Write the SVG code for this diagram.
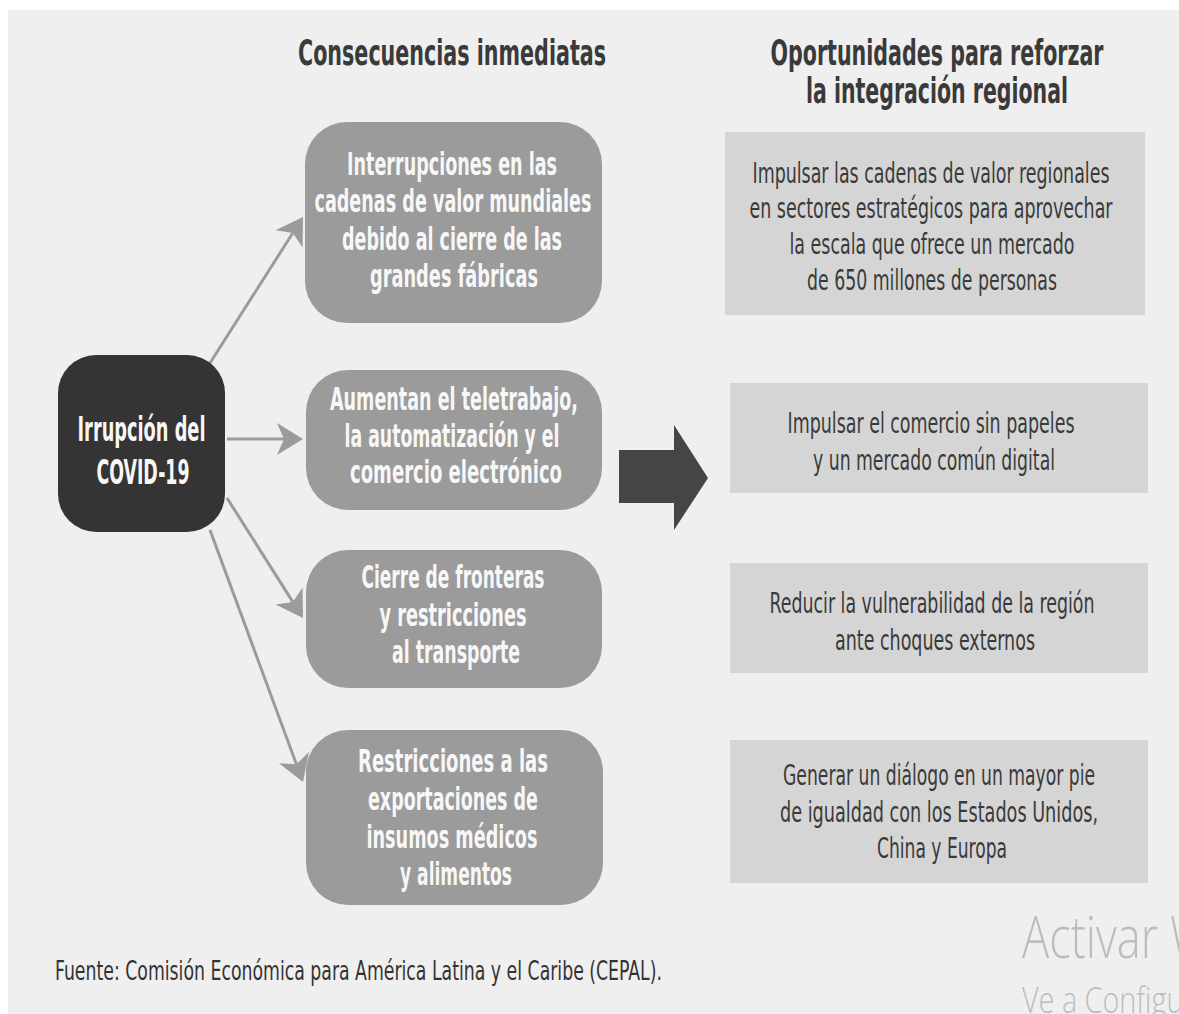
<svg xmlns="http://www.w3.org/2000/svg" width="1179" height="1014" viewBox="0 0 1179 1014">
<defs>
<style>
.hd{font-family:"DejaVu Sans Condensed","Liberation Sans Narrow",sans-serif;font-weight:bold;font-size:35px;fill:#3a3a3a;text-anchor:middle}
.mid{fill:#9b9b9b}
.mt{font-family:"DejaVu Sans Condensed","Liberation Sans Narrow",sans-serif;font-weight:bold;font-size:32px;fill:#f7f7f7;text-anchor:middle}
.lt{font-family:"DejaVu Sans Condensed","Liberation Sans Narrow",sans-serif;font-weight:bold;font-size:34px;fill:#f7f7f7;text-anchor:middle}
.rb{fill:#d5d5d5}
.rt{font-family:"DejaVu Sans Condensed","Liberation Sans Narrow",sans-serif;font-size:29px;fill:#3a3a3a;text-anchor:middle}
.con{stroke:#9b9b9b;stroke-width:3;fill:none;marker-end:url(#ah)}
.ft{font-family:"DejaVu Sans Condensed","Liberation Sans Narrow",sans-serif;font-size:27px;fill:#333}
.wm{font-family:"Open Sans","Noto Sans",sans-serif;font-weight:300;fill:#bcbcbc}
</style>
<marker id="ah" markerUnits="userSpaceOnUse" markerWidth="30" markerHeight="34" viewBox="0 -17 28 34" refX="7" refY="0" orient="auto">
<path d="M0,-16 L26,0 L0,16 L7,0 Z" fill="#9b9b9b"/>
</marker>
</defs>
<rect x="0" y="0" width="1179" height="1014" fill="#ffffff"/>
<rect x="8" y="10" width="1171" height="1004" fill="#efefef"/>

<g id="headers">
<text class="hd" transform="translate(452,65) scale(0.65,1)" textLength="473.8" lengthAdjust="spacingAndGlyphs">Consecuencias inmediatas</text>
<text class="hd" transform="translate(937,65) scale(0.65,1)" textLength="512.3" lengthAdjust="spacingAndGlyphs">Oportunidades para reforzar</text>
<text class="hd" transform="translate(937,103) scale(0.65,1)" textLength="403.1" lengthAdjust="spacingAndGlyphs">la integración regional</text>
</g>

<g id="connectors">
<line class="con" x1="210" y1="363" x2="292.8" y2="233"/>
<line class="con" x1="227" y1="439" x2="284" y2="439"/>
<line class="con" x1="227" y1="498" x2="292.8" y2="601.9"/>
<line class="con" x1="210" y1="530" x2="296.4" y2="764.2"/>
<polygon points="619,450 674,450 674,425 708,478 674,530 674,503 619,503" fill="#454545"/>
</g>

<g id="node-covid">
<rect x="58" y="355" width="167" height="177" rx="38" fill="#343434"/>
<text class="lt" transform="translate(141.5,441) scale(0.65,1)" textLength="196.9" lengthAdjust="spacingAndGlyphs">Irrupción del</text>
<text class="lt" transform="translate(143,484) scale(0.65,1)" textLength="143.1" lengthAdjust="spacingAndGlyphs">COVID-19</text>
</g>

<g id="node-c1">
<rect class="mid" x="305" y="122" width="297" height="201" rx="42"/>
<text class="mt" transform="translate(452,175) scale(0.65,1)" textLength="323.1" lengthAdjust="spacingAndGlyphs">Interrupciones en las</text>
<text class="mt" transform="translate(453,212) scale(0.65,1)" textLength="426.2" lengthAdjust="spacingAndGlyphs">cadenas de valor mundiales</text>
<text class="mt" transform="translate(452,250) scale(0.65,1)" textLength="338.5" lengthAdjust="spacingAndGlyphs">debido al cierre de las</text>
<text class="mt" transform="translate(454,287) scale(0.65,1)" textLength="258.5" lengthAdjust="spacingAndGlyphs">grandes fábricas</text>
</g>

<g id="node-c2">
<rect class="mid" x="306" y="370" width="296" height="140" rx="42"/>
<text class="mt" transform="translate(454,410) scale(0.65,1)" textLength="381.5" lengthAdjust="spacingAndGlyphs">Aumentan el teletrabajo,</text>
<text class="mt" transform="translate(452,447) scale(0.65,1)" textLength="330.8" lengthAdjust="spacingAndGlyphs">la automatización y el</text>
<text class="mt" transform="translate(456,483) scale(0.65,1)" textLength="326.2" lengthAdjust="spacingAndGlyphs">comercio electrónico</text>
</g>

<g id="node-c3">
<rect class="mid" x="306" y="550" width="296" height="138" rx="42"/>
<text class="mt" transform="translate(453,588) scale(0.65,1)" textLength="281.5" lengthAdjust="spacingAndGlyphs">Cierre de fronteras</text>
<text class="mt" transform="translate(453,626) scale(0.65,1)" textLength="226.2" lengthAdjust="spacingAndGlyphs">y restricciones</text>
<text class="mt" transform="translate(456,663) scale(0.65,1)" textLength="196.9" lengthAdjust="spacingAndGlyphs">al transporte</text>
</g>

<g id="node-c4">
<rect class="mid" x="306" y="730" width="297" height="175" rx="42"/>
<text class="mt" transform="translate(453,772) scale(0.65,1)" textLength="292.3" lengthAdjust="spacingAndGlyphs">Restricciones a las</text>
<text class="mt" transform="translate(453,810) scale(0.65,1)" textLength="261.5" lengthAdjust="spacingAndGlyphs">exportaciones de</text>
<text class="mt" transform="translate(452,848) scale(0.65,1)" textLength="263.1" lengthAdjust="spacingAndGlyphs">insumos médicos</text>
<text class="mt" transform="translate(456,885) scale(0.65,1)" textLength="172.3" lengthAdjust="spacingAndGlyphs">y alimentos</text>
</g>

<g id="node-o1">
<rect class="rb" x="725" y="132" width="420" height="183"/>
<text class="rt" transform="translate(931,183) scale(0.65,1)" textLength="549.2" lengthAdjust="spacingAndGlyphs">Impulsar las cadenas de valor regionales</text>
<text class="rt" transform="translate(931,218) scale(0.65,1)" textLength="558.5" lengthAdjust="spacingAndGlyphs">en sectores estratégicos para aprovechar</text>
<text class="rt" transform="translate(932,254) scale(0.65,1)" textLength="438.5" lengthAdjust="spacingAndGlyphs">la escala que ofrece un mercado</text>
<text class="rt" transform="translate(932,290) scale(0.65,1)" textLength="384.6" lengthAdjust="spacingAndGlyphs">de 650 millones de personas</text>
</g>

<g id="node-o2">
<rect class="rb" x="730" y="383" width="418" height="110"/>
<text class="rt" transform="translate(931,433) scale(0.65,1)" textLength="441.5" lengthAdjust="spacingAndGlyphs">Impulsar el comercio sin papeles</text>
<text class="rt" transform="translate(934,470) scale(0.65,1)" textLength="372.3" lengthAdjust="spacingAndGlyphs">y un mercado común digital</text>
</g>

<g id="node-o3">
<rect class="rb" x="730" y="563" width="418" height="110"/>
<text class="rt" transform="translate(932,613) scale(0.65,1)" textLength="500" lengthAdjust="spacingAndGlyphs">Reducir la vulnerabilidad de la región</text>
<text class="rt" transform="translate(935,650) scale(0.65,1)" textLength="307.7" lengthAdjust="spacingAndGlyphs">ante choques externos</text>
</g>

<g id="node-o4">
<rect class="rb" x="730" y="740" width="418" height="143"/>
<text class="rt" transform="translate(939,785) scale(0.65,1)" textLength="480" lengthAdjust="spacingAndGlyphs">Generar un diálogo en un mayor pie</text>
<text class="rt" transform="translate(939,822) scale(0.65,1)" textLength="489.2" lengthAdjust="spacingAndGlyphs">de igualdad con los Estados Unidos,</text>
<text class="rt" transform="translate(942,858) scale(0.65,1)" textLength="200" lengthAdjust="spacingAndGlyphs">China y Europa</text>
</g>

<g id="footer">
<text class="ft" transform="translate(55,980) scale(0.65,1)" textLength="933.8" lengthAdjust="spacingAndGlyphs">Fuente: Comisión Económica para América Latina y el Caribe (CEPAL).</text>
</g>

<g id="watermark">
<text class="wm" font-size="58" transform="translate(1022,958) scale(0.78,1)">Activar W</text>
<text class="wm" font-size="36" transform="translate(1022,1013) scale(0.8,1)">Ve a Configu</text>
</g>
</svg>
